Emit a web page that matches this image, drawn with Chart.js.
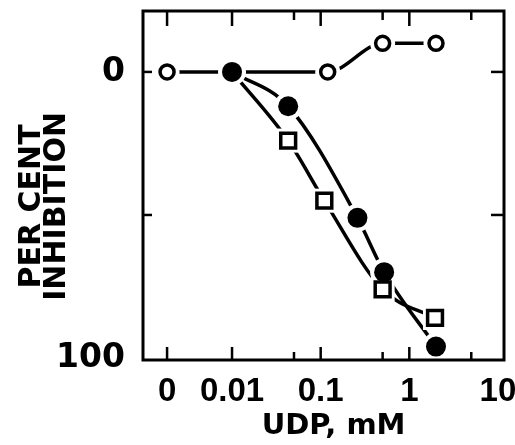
<!DOCTYPE html>
<html>
<head>
<meta charset="utf-8">
<script src="https://cdn.jsdelivr.net/npm/chart.js@4"></script>
<style>
  body { margin: 0; background: #fff; }
  #wrap { width: 515px; height: 445px; }
</style>
</head>
<body>
<div id="wrap"><canvas id="chart"></canvas></div>
<script>
// UDP concentration (mM); the "0" dose sits at ZERO_POS on the log axis
const ZERO_POS = 0.00185;
// all three curves start from the filled point at this dose
const SHARED_X = 0.01;

const openX = [0, 0.01, 0.12, 0.5, 2];
const openY = [0, 0, 0, -10, -10];
const filledX = [0.01, 0.043, 0.26, 0.52, 2];
const filledY = [0, 12, 51, 70, 96];
const squareX = [0.01, 0.043, 0.11, 0.5, 1.95];
const squareY = [0, 24, 45, 76, 86];

const xTickValues = [ZERO_POS, 0.01, 0.1, 1, 10];
const xTickLabels = ['0', '0.01', '0.1', '1', '10'];
const xMinorTicks = [0.05, 0.5, 5];
const yTickValues = [0, 100];
const yTickLabels = ['0', '100'];
const yMarkTicks = [0, 50];

function pts(xs, ys) {
    return xs.map((v, i) => ({ x: v === 0 ? ZERO_POS : v, y: ys[i] }));
}

// filled first so its marker sits on top
const series = [
    { data: pts(filledX, filledY), style: 'circle', r: 10, bw: 0, fill: '#000', halo: 14, ownsShared: true },
    { data: pts(squareX, squareY), style: 'rect', r: 10.5, bw: 3.5, fill: '#fff', halo: 17 },
    { data: pts(openX, openY), style: 'circle', r: 7, bw: 3.5, fill: '#fff', halo: 12.5 }
];

const datasets = [];
series.forEach(s => {
    const size = r => ctx => (!s.ownsShared && ctx.raw && ctx.raw.x === SHARED_X ? 0 : r);
    // curve
    datasets.push({ data: s.data, borderColor: '#000', borderWidth: 3.5, pointRadius: 0,
        cubicInterpolationMode: 'monotone', order: 3 });
    // white gap round each marker
    datasets.push({ data: s.data, showLine: false, pointStyle: s.style, pointRadius: size(s.halo),
        pointBackgroundColor: '#fff', pointBorderWidth: 0, order: 2 });
    // marker
    datasets.push({ data: s.data, showLine: false, pointStyle: s.style, pointRadius: size(s.r),
        pointBackgroundColor: s.fill, pointBorderColor: '#000', pointBorderWidth: s.bw, order: 1 });
});

// box frame with inward ticks
const frame = {
    id: 'frame',
    afterDraw(chart) {
        const { ctx, chartArea: a, scales: { x, y } } = chart;
        ctx.save();
        ctx.strokeStyle = '#000';
        ctx.lineWidth = 3;
        ctx.strokeRect(a.left, a.top, a.right - a.left, a.bottom - a.top);
        ctx.lineWidth = 2.5;
        const tick = (x1, y1, x2, y2) => {
            ctx.beginPath(); ctx.moveTo(x1, y1); ctx.lineTo(x2, y2); ctx.stroke();
        };
        xTickValues.slice(0, -1).forEach(v => {
            const px = x.getPixelForValue(v);
            tick(px, a.bottom, px, a.bottom - 13);
            tick(px, a.top, px, a.top + 15);
        });
        xMinorTicks.forEach(v => {
            const px = x.getPixelForValue(v);
            tick(px, a.bottom, px, a.bottom - 8);
            tick(px, a.top, px, a.top + 9);
        });
        yMarkTicks.forEach(v => {
            const py = y.getPixelForValue(v);
            tick(a.left, py, a.left + 9, py);
            tick(a.right, py, a.right - 13, py);
        });
        ctx.restore();
    }
};

new Chart(document.getElementById('chart'), {
    type: 'line',
    data: { datasets },
    plugins: [frame],
    options: {
        responsive: true,
        maintainAspectRatio: false,
        animation: false,
        devicePixelRatio: 1,
        layout: { autoPadding: false, padding: { top: 11, right: 11, left: 0, bottom: 0 } },
        plugins: { legend: { display: false }, tooltip: { enabled: false } },
        scales: {
            x: {
                type: 'logarithmic',
                min: 0.00099,
                max: 11.7,
                grid: { display: false },
                border: { display: false },
                afterBuildTicks: s => { s.ticks = xTickValues.map(v => ({ value: v })); },
                ticks: {
                    autoSkip: false, maxRotation: 0, padding: 4, color: '#000',
                    font: { family: 'Liberation Sans', weight: 'bold', size: 33 },
                    callback: (v, i) => xTickLabels[i]
                },
                title: {
                    display: true, text: '  UDP, mM', color: '#000',
                    font: { family: 'DejaVu Sans', weight: 'bold', size: 29 },
                    padding: { top: 0, bottom: 1 }
                },
                afterFit: s => { s.height = 85; s.paddingLeft = 0; s.paddingRight = 0; }
            },
            y: {
                type: 'linear',
                reverse: true,
                min: -21.3,
                max: 100.7,
                grid: { display: false },
                border: { display: false },
                afterBuildTicks: s => { s.ticks = yTickValues.map(v => ({ value: v })); },
                ticks: {
                    padding: 10, color: '#000',
                    font: { family: 'DejaVu Sans', weight: 'bold', size: 33 },
                    callback: (v, i) => yTickLabels[i]
                },
                title: {
                    display: true, text: ['PER CENT    ', 'INHIBITION    '], color: '#000',
                    font: { family: 'DejaVu Sans', weight: 'bold', size: 30, lineHeight: 0.83 },
                    padding: { top: 19.5, bottom: 0 }
                },
                afterFit: s => { s.width = 143; s.paddingTop = 0; s.paddingBottom = 0; }
            }
        }
    }
});
</script>
</body>
</html>
